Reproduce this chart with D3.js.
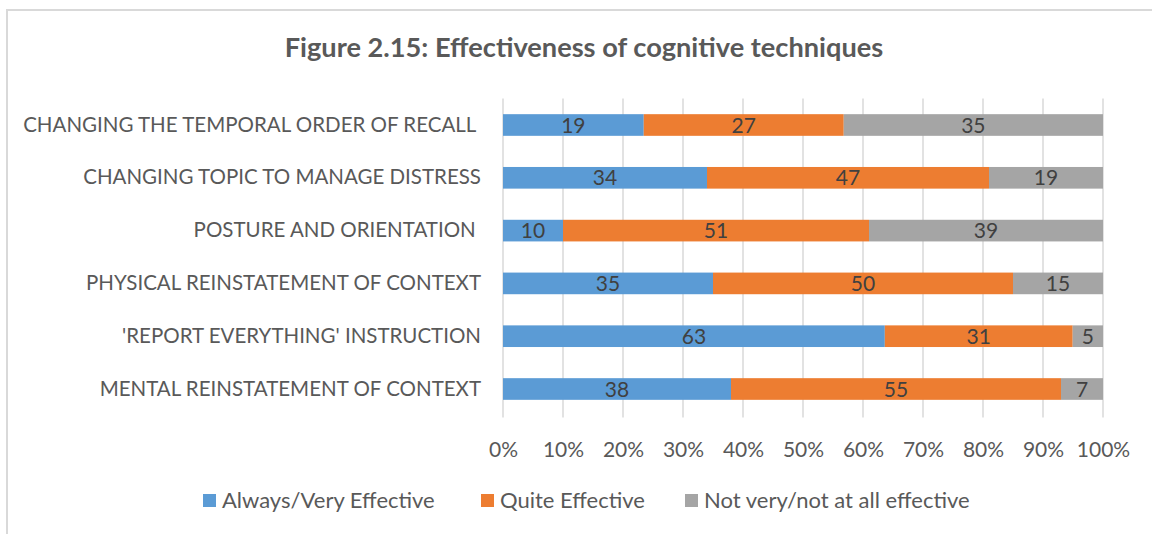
<!DOCTYPE html>
<html>
<head>
<meta charset="utf-8">
<script src="https://cdn.jsdelivr.net/npm/d3@7"></script>
<style>
  html, body { margin: 0; padding: 0; background: #fff; }
  svg { display: block; }
  text { font-family: Lato, "Open Sans", sans-serif; }
</style>
</head>
<body>
<svg id="chart" width="1152" height="534"></svg>
<script>
const categories = [
  "CHANGING THE TEMPORAL ORDER OF RECALL ",
  "CHANGING TOPIC TO MANAGE DISTRESS",
  "POSTURE AND ORIENTATION ",
  "PHYSICAL REINSTATEMENT OF CONTEXT",
  "'REPORT EVERYTHING' INSTRUCTION",
  "MENTAL REINSTATEMENT OF CONTEXT"
];
const seriesNames = ["Always/Very Effective", "Quite Effective", "Not very/not at all effective"];
const alwaysVery = [19, 34, 10, 35, 63, 38];
const quite = [27, 47, 51, 50, 31, 55];
const notVery = [35, 19, 39, 15, 5, 7];
const colors = ["#5B9BD5", "#ED7D31", "#A5A5A5"];
const tickValues = [0, 0.1, 0.2, 0.3, 0.4, 0.5, 0.6, 0.7, 0.8, 0.9, 1.0];
const titleText = "Figure 2.15: Effectiveness of cognitive techniques";

const svg = d3.select("#chart");
const W = 1152, H = 534;
const margin = { left: 503, right: 49, top: 98.6, bottom: 118.6 };

// frame
svg.append("path")
  .attr("d", `M7,${H} L7,10 L${W},10`)
  .attr("fill", "none").attr("stroke", "#d9d9d9").attr("stroke-width", 2);

// title
svg.append("text")
  .attr("x", 584).attr("y", 57)
  .attr("text-anchor", "middle")
  .attr("font-size", 27.2).attr("font-weight", "bold")
  .attr("fill", "#595959")
  .text(titleText);

const x = d3.scaleLinear().domain([0, 1]).range([margin.left, W - margin.right]);
const y = d3.scaleBand().domain(categories).range([margin.top, H - margin.bottom]).paddingInner(0.59).paddingOuter(0.295);

// gridlines
svg.append("g").selectAll("line").data(tickValues).join("line")
  .attr("x1", d => x(d)).attr("x2", d => x(d))
  .attr("y1", margin.top).attr("y2", H - margin.bottom + 2)
  .attr("stroke", "#d9d9d9").attr("stroke-width", 1.5);

// x axis labels
const xAxis = d3.axisBottom(x).tickValues(tickValues).tickFormat(d3.format(".0%")).tickSize(0).tickPadding(0);
const gx = svg.append("g").attr("transform", `translate(0,${H - margin.bottom + 34})`).call(xAxis);
gx.select(".domain").remove();
gx.selectAll("text").attr("font-size", 21).attr("fill", "#595959").attr("dy", "0.35em")
  .style("font-family", "Lato, 'Open Sans', sans-serif");

// y axis labels
const yAxis = d3.axisLeft(y).tickSize(0).tickPadding(22);
const gy = svg.append("g").attr("transform", `translate(${margin.left},0)`).call(yAxis);
gy.select(".domain").remove();
gy.selectAll("text").attr("font-size", 20.5).attr("fill", "#595959")
  .style("font-family", "Lato, 'Open Sans', sans-serif")
  .attr("xml:space", "preserve").style("white-space", "pre");

// stacked data
const rows = categories.map((c, i) => ({ cat: c, s0: alwaysVery[i], s1: quite[i], s2: notVery[i] }));
const stack = d3.stack().keys(["s0", "s1", "s2"]).offset(d3.stackOffsetExpand);
const stacked = stack(rows);

const layers = svg.append("g").selectAll("g").data(stacked).join("g")
  .attr("fill", (d, i) => colors[i]);
layers.selectAll("rect").data(d => d).join("rect")
  .attr("x", d => x(d[0])).attr("width", d => x(d[1]) - x(d[0]))
  .attr("y", d => y(d.data.cat)).attr("height", y.bandwidth());

// data labels
const labels = svg.append("g");
stacked.forEach((layer) => {
  labels.selectAll(null).data(layer).join("text")
    .attr("x", d => (x(d[0]) + x(d[1])) / 2)
    .attr("y", d => y(d.data.cat) + y.bandwidth() / 2)
    .attr("dy", "0.36em")
    .attr("text-anchor", "middle")
    .attr("font-size", 21).attr("fill", "#404040")
    .text(d => d.data[layer.key]);
});

// legend
const legendX = [203, 481, 685];
const lg = svg.append("g").selectAll("g").data(seriesNames).join("g")
  .attr("transform", (d, i) => `translate(${legendX[i]},494)`);
lg.append("rect").attr("width", 13).attr("height", 13).attr("y", 0).attr("fill", (d, i) => colors[i]);
lg.append("text").attr("x", 19).attr("y", 6.5).attr("dy", "0.36em")
  .attr("font-size", 22).attr("fill", "#595959").text(d => d);
</script>
</body>
</html>
